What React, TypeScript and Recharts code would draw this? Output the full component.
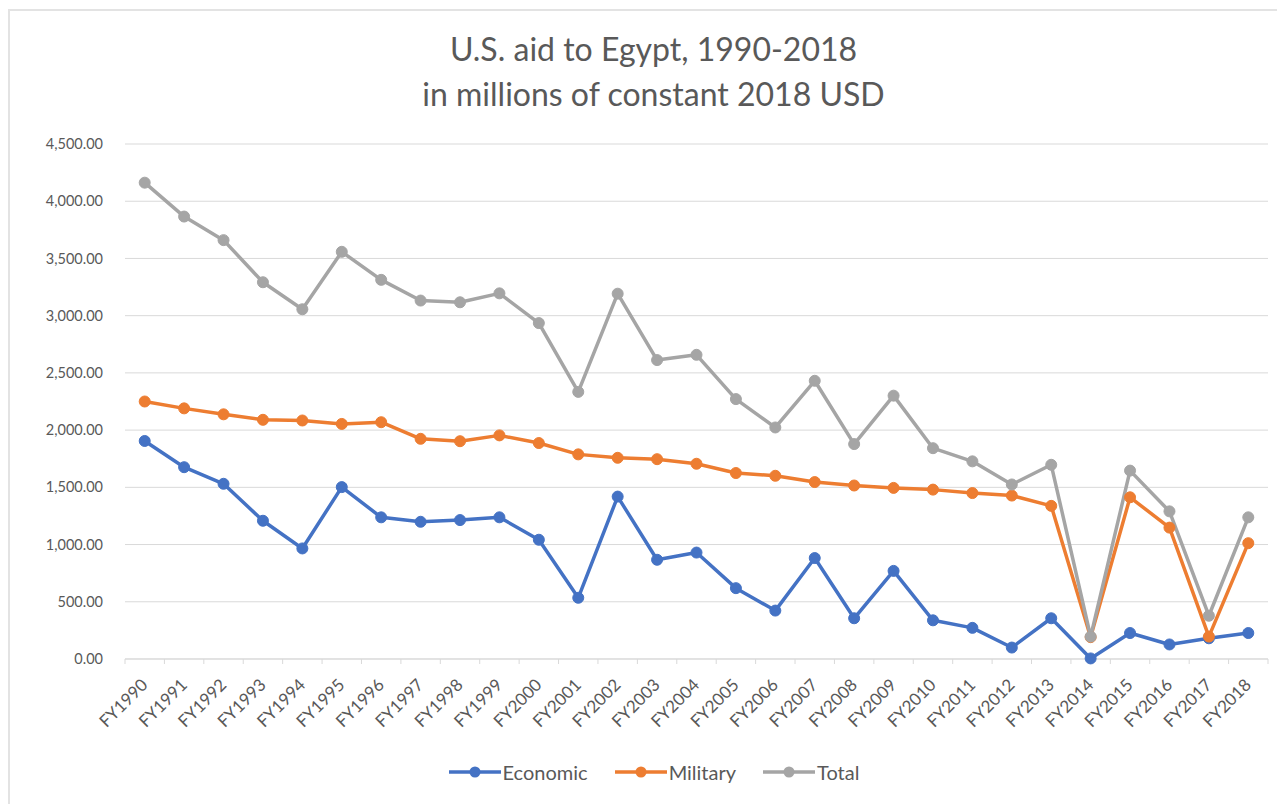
import React from "react";
import { LineChart, Line, XAxis, YAxis, CartesianGrid } from "recharts";

const categories = [
  "FY1990", "FY1991", "FY1992", "FY1993", "FY1994", "FY1995", "FY1996", "FY1997",
  "FY1998", "FY1999", "FY2000", "FY2001", "FY2002", "FY2003", "FY2004", "FY2005",
  "FY2006", "FY2007", "FY2008", "FY2009", "FY2010", "FY2011", "FY2012", "FY2013",
  "FY2014", "FY2015", "FY2016", "FY2017", "FY2018",
];

const economic = [
  1905, 1676, 1531, 1208, 966, 1502, 1238, 1199, 1214, 1238, 1042, 535, 1419, 867,
  930, 619, 423, 882, 356, 770, 338, 272, 100, 356, 5, 227, 127, 181, 227,
];

const military = [
  2250, 2190, 2138, 2090, 2084, 2054, 2069, 1924, 1903, 1954, 1887, 1788, 1758, 1746,
  1706, 1625, 1601, 1546, 1516, 1495, 1480, 1450, 1428, 1338, 191, 1413, 1148, 196, 1012,
];

const total = [
  4162, 3866, 3660, 3292, 3056, 3558, 3313, 3132, 3117, 3195, 2935, 2334, 3192, 2612,
  2658, 2271, 2023, 2431, 1878, 2301, 1842, 1727, 1525, 1697, 196, 1646, 1290, 378, 1238,
];

const yTicks = [0, 500, 1000, 1500, 2000, 2500, 3000, 3500, 4000, 4500];

const seriesNames = ["Economic", "Military", "Total"];
const seriesColors = ["#4472C4", "#ED7D31", "#A5A5A5"];

const data = categories.map((c, i) => ({
  idx: i,
  name: c,
  Economic: economic[i],
  Military: military[i],
  Total: total[i],
}));

const xTicks: number[] = [];
for (let i = 0; i <= categories.length * 2; i++) xTicks.push(-0.5 + i * 0.5);

const TEXT = "#595959";
const FONT = "Lato, 'Open Sans', sans-serif";

const fmt = (v: number) =>
  v.toLocaleString("en-US", { minimumFractionDigits: 2, maximumFractionDigits: 2 });

const XTick = (props: any) => {
  const { x, y, payload } = props;
  const v = payload.value as number;
  if (Math.abs(v - Math.round(v)) > 0.01) {
    return <line x1={x} y1={y} x2={x} y2={y + 5} stroke="#d9d9d9" strokeWidth={1} />;
  }
  const label = categories[Math.round(v)];
  const ax = x + 4;
  const ay = y + 27;
  return (
    <text
      x={ax}
      y={ay}
      transform={`rotate(-45, ${ax}, ${ay})`}
      textAnchor="end"
      fill={TEXT}
      fontSize={17}
      fontFamily={FONT}
    >
      {label}
    </text>
  );
};

export default function App() {
  return (
    <div
      style={{
        position: "relative",
        width: 1277,
        height: 796,
        borderTop: "2px solid #e3e3e3",
        borderLeft: "2px solid #e3e3e3",
        marginTop: 1,
        background: "#fff",
        fontFamily: FONT,
      }}
    >
      <div
        style={{
          position: "absolute",
          left: 0,
          top: 15,
          width: 1287,
          textAlign: "center",
          color: TEXT,
          fontSize: 32,
          lineHeight: "45px",
          fontFamily: FONT,
        }}
      >
        <div>U.S. aid to Egypt, 1990-2018</div>
        <div>in millions of constant 2018 USD</div>
      </div>
      <LineChart
        width={1275}
        height={794}
        data={data}
        margin={{ top: 133, right: 17, left: 0, bottom: 0 }}
        style={{ position: "absolute", left: 0, top: 0 }}
      >
        <CartesianGrid horizontal vertical={false} stroke="#d9d9d9" />
        <XAxis
          dataKey="idx"
          type="number"
          domain={[-0.5, categories.length - 0.5]}
          ticks={xTicks}
          interval={0}
          tick={<XTick />}
          tickLine={false}
          tickSize={0}
          tickMargin={0}
          axisLine={{ stroke: "#d9d9d9" }}
          height={146}
          allowDecimals
        />
        <YAxis
          domain={[0, 4500]}
          ticks={yTicks}
          interval={0}
          tickFormatter={fmt}
          axisLine={false}
          tickLine={false}
          tickSize={0}
          tickMargin={22}
          width={115}
          tick={{ fill: TEXT, fontSize: 14.5, fontFamily: FONT }}
        />
        {seriesNames.map((s, i) => (
          <Line
            key={s}
            type="linear"
            dataKey={s}
            stroke={seriesColors[i]}
            strokeWidth={3.5}
            strokeLinejoin="round"
            dot={{ r: 5.5, fill: seriesColors[i], stroke: seriesColors[i], strokeWidth: 1 }}
            isAnimationActive={false}
          />
        ))}
      </LineChart>
      <div
        style={{
          position: "absolute",
          top: 749,
          left: 0,
          width: 1287,
          display: "flex",
          justifyContent: "center",
          gap: 26,
          color: TEXT,
          fontSize: 20,
          fontFamily: FONT,
        }}
      >
        {seriesNames.map((s, i) => (
          <div key={s} style={{ display: "flex", alignItems: "center" }}>
            <svg width={54} height={14}>
              <line x1={1} y1={7} x2={53} y2={7} stroke={seriesColors[i]} strokeWidth={3.5} />
              <circle cx={27} cy={7} r={5.5} fill={seriesColors[i]} />
            </svg>
            <span style={{ marginLeft: 1 }}>{s}</span>
          </div>
        ))}
      </div>
    </div>
  );
}
